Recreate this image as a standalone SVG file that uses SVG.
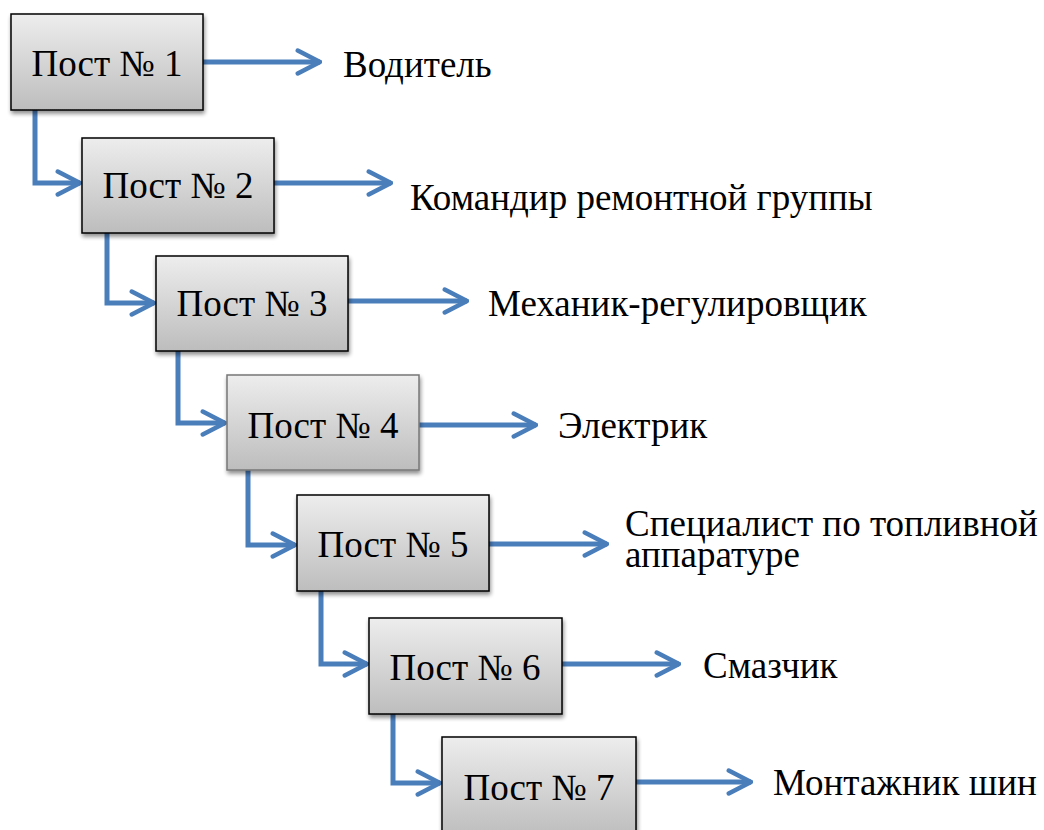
<svg xmlns="http://www.w3.org/2000/svg" width="1044" height="830" viewBox="0 0 1044 830">
<defs>
<linearGradient id="g" x1="0" y1="0" x2="0" y2="1">
<stop offset="0" stop-color="#ededed"/>
<stop offset="1" stop-color="#bdbdbd"/>
</linearGradient>
<filter id="sh" x="-10%" y="-10%" width="125%" height="130%">
<feGaussianBlur in="SourceAlpha" stdDeviation="2"/>
<feOffset dx="1" dy="3"/>
<feComponentTransfer><feFuncA type="linear" slope="0.45"/></feComponentTransfer>
<feMerge><feMergeNode/><feMergeNode in="SourceGraphic"/></feMerge>
</filter>
<marker id="ah" viewBox="0 0 10 10" refX="9.3" refY="5" markerWidth="5.5" markerHeight="5.5" markerUnits="strokeWidth" orient="auto">
<path d="M1.2,0.8 L9.3,5 L1.2,9.2" fill="none" stroke="#4a7ebb" stroke-width="1.6" stroke-linecap="round" stroke-linejoin="round"/>
</marker>
</defs>
<style>
.box{fill:url(#g);stroke:#000;stroke-width:1.5;filter:url(#sh)}
.bt{font-family:"Liberation Serif","Times New Roman",serif;font-size:37px;text-anchor:middle;fill:#000}
.lb{font-family:"Liberation Serif","Times New Roman",serif;font-size:37px;fill:#000}
.c{fill:none;stroke:#4a7ebb;stroke-width:5;marker-end:url(#ah)}
</style>
<rect width="1044" height="830" fill="#fff"/>
<g id="connectors">
<path class="c" d="M203,62 H320"/>
<path class="c" d="M274,183 H391"/>
<path class="c" d="M348,301 H467"/>
<path class="c" d="M419,425 H536"/>
<path class="c" d="M489,544 H607"/>
<path class="c" d="M562,664 H679"/>
<path class="c" d="M636,782 H751"/>
<path class="c" d="M35,110 V183 H80"/>
<path class="c" d="M107,233 V303 H154"/>
<path class="c" d="M178,351 V423 H225"/>
<path class="c" d="M248,470 V545 H295"/>
<path class="c" d="M321,591 V664 H367"/>
<path class="c" d="M393,714 V783 H440"/>
</g>
<g id="n1"><rect class="box" x="11" y="14" width="192" height="96"/><text class="bt" x="107" y="76">Пост № 1</text></g>
<g id="n2"><rect class="box" x="82" y="138" width="192" height="95"/><text class="bt" x="178" y="198">Пост № 2</text></g>
<g id="n3"><rect class="box" x="156" y="256" width="192" height="95"/><text class="bt" x="252" y="316">Пост № 3</text></g>
<g id="n4"><rect class="box" x="227" y="375" width="192" height="95" style="stroke:#777"/><text class="bt" x="323" y="438">Пост № 4</text></g>
<g id="n5"><rect class="box" x="297" y="495" width="192" height="96"/><text class="bt" x="393" y="557">Пост № 5</text></g>
<g id="n6"><rect class="box" x="369" y="618" width="193" height="96"/><text class="bt" x="465" y="680">Пост № 6</text></g>
<g id="n7"><rect class="box" x="442" y="737" width="194" height="100"/><text class="bt" x="539" y="800">Пост № 7</text></g>
<g id="labels">
<text class="lb" x="343" y="77">Водитель</text>
<text class="lb" x="410" y="210">Командир ремонтной группы</text>
<text class="lb" x="488" y="316">Механик-регулировщик</text>
<text class="lb" x="558" y="438">Электрик</text>
<text class="lb" x="625" y="536">Специалист по топливной<tspan x="625" dy="31">аппаратуре</tspan></text>
<text class="lb" x="703" y="678">Смазчик</text>
<text class="lb" x="773" y="795">Монтажник шин</text>
</g>
</svg>
